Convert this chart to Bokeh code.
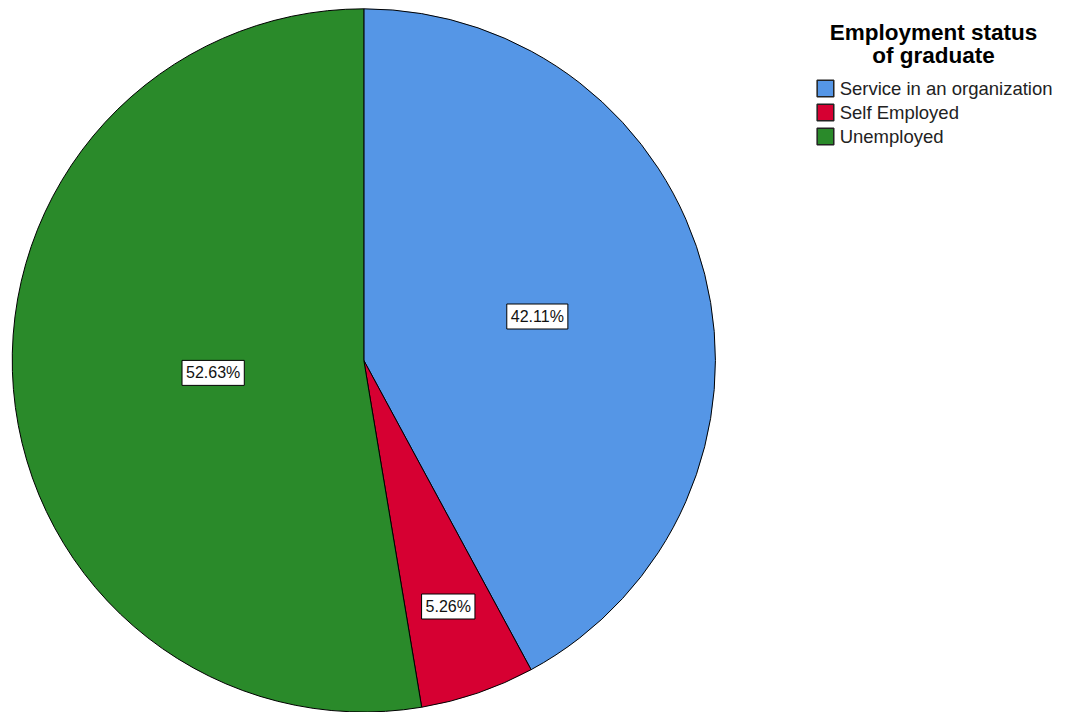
import math
from bokeh.plotting import figure
from bokeh.models import ColumnDataSource
from bokeh.core.properties import value
from bokeh.embed import file_html
from bokeh.resources import INLINE

categories = ["Service in an organization", "Self Employed", "Unemployed"]
percents = [42.11, 5.26, 52.63]
pct_labels = ["42.11%", "5.26%", "52.63%"]
colors = ["#5596E6", "#D60032", "#2A8A2A"]
legend_title = ["Employment status", "of graduate"]

W, H = 1073, 712
S = H / 728.0  # scale of reference layout into figure

p = figure(width=W, height=H, x_range=(0, W), y_range=(0, H),
           output_backend="svg", toolbar_location=None, min_border=0)
p.axis.visible = False
p.grid.visible = False
p.outline_line_color = None
p.background_fill_color = "white"


def X(px):
    return px * S


def Y(py):
    return H - py * S


cx, cy, r = X(371.5), Y(368), 359.5 * S
label_frac = [0.509, 0.74, 0.43]

total = sum(percents)
starts, ends, lx, ly = [], [], [], []
acc = 0.0
for i, v in enumerate(percents):
    a0 = math.pi / 2 - 2 * math.pi * acc / total
    acc += v
    a1 = math.pi / 2 - 2 * math.pi * acc / total
    starts.append(a0)
    ends.append(a1)
    mid = (a0 + a1) / 2
    lx.append(cx + r * label_frac[i] * math.cos(mid))
    ly.append(cy + r * label_frac[i] * math.sin(mid))

src = ColumnDataSource(dict(start=starts, end=ends, color=colors, lx=lx, ly=ly,
                            lab=pct_labels, cat=categories))
p.wedge(x=cx, y=cy, radius=r, start_angle="start", end_angle="end",
        direction="clock", fill_color="color", line_color="black", line_width=1,
        source=src)

p.text(x="lx", y="ly", text="lab", source=src, text_align="center",
       text_baseline="middle", text_font=value("Liberation Sans"),
       text_font_size="16px", text_color="#111111",
       background_fill_color="white", border_line_color="black",
       border_line_width=1, padding=4)

# legend
p.text(x=[X(954), X(954)], y=[Y(33), Y(56)], text=legend_title, text_align="center",
       text_baseline="middle", text_font=value("Liberation Sans"),
       text_font_size="22.5px", text_font_style="bold", text_color="black")

ly_leg = [Y(90), Y(114.5), Y(139)]
lsrc = ColumnDataSource(dict(y=ly_leg, cat=categories, color=colors))
p.rect(x=X(843.5), y="y", width=17 * S, height=17 * S, fill_color="color",
       line_color="#222222", line_width=1.5, source=lsrc)
p.text(x=X(858), y="y", text="cat", source=lsrc, text_align="left",
       text_baseline="middle", text_font=value("Liberation Sans"),
       text_font_size="18.5px", text_color="#222222")

open("out.html", "w").write(file_html(p, INLINE))
